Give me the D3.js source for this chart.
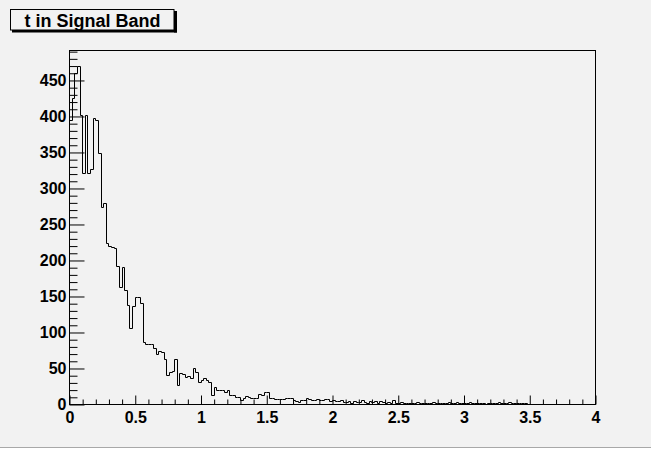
<!DOCTYPE html>
<html>
<head>
<meta charset="utf-8">
<script src="https://cdn.jsdelivr.net/npm/d3@7"></script>
<style>
  html, body { margin: 0; padding: 0; background: #ffffff; }
  svg { display: block; }
  text { font-family: "Liberation Sans", Arial, Helvetica, sans-serif; font-weight: bold; fill: #000; }
</style>
</head>
<body>
<svg id="chart" width="651" height="449"></svg>
<script>
// ---- data ----
const title = "t in Signal Band";
const xMin = 0, xMax = 4, binWidth = 0.02;
// bin contents (200 bins of width 0.02 from 0 to 4)
const binCounts = [
  395, 425, 460, 470, 402, 321, 401, 321, 327, 397,
  394, 349, 274, 279, 223, 220, 218, 217, 191, 163,
  190, 159, 137, 105, 136, 149, 148, 140, 86, 83,
  84, 83, 78, 69, 74, 72, 62, 40, 45, 46,
  63, 26, 43, 42, 38, 39, 36, 50, 45, 31,
  33, 36, 34, 31, 13, 24, 20, 20, 19, 17,
  20, 13, 12, 10, 10, 6, 8, 11, 10, 9,
  9, 9, 14, 13, 17, 16, 9, 8, 7, 7,
  7, 7, 9, 9, 9, 6, 4, 3, 6, 6,
  8, 7, 5, 6, 7, 5, 6, 7, 7, 4,
  5, 4, 4, 5, 3, 3, 4, 2, 4, 3,
  3, 5, 3, 2, 4, 3, 4, 2, 4, 3,
  2, 3, 2, 5, 2, 1, 3, 2, 2, 1,
  2, 1, 3, 2, 2, 1, 2, 1, 3, 1,
  2, 1, 1, 2, 3, 2, 2, 3, 2, 1,
  2, 2, 3, 1, 1, 2, 1, 1, 0, 1,
  2, 2, 2, 3, 1, 2, 1, 3, 1, 2,
  2, 2, 1, 2, 0, 0, 0, 0, 0, 0,
  0, 0, 0, 0, 0, 0, 0, 0, 0, 0,
  0, 0, 0, 0, 0, 0, 0, 0, 0, 0
];
const yMajorTicks = [0, 50, 100, 150, 200, 250, 300, 350, 400, 450];
const xMajorTicks = [0, 0.5, 1, 1.5, 2, 2.5, 3, 3.5, 4];
const xTickLabels = ["0", "0.5", "1", "1.5", "2", "2.5", "3", "3.5", "4"];
const yTop = 491.6;

// ---- layout ----
const W = 651, H = 449;
const frame = { left: 69, right: 595, top: 50, bottom: 404 };

const svg = d3.select("#chart");

// canvas background
svg.append("rect").attr("x", 0).attr("y", 0).attr("width", W).attr("height", 447)
  .attr("fill", "#f2f2f2");
svg.append("line").attr("x1", 0).attr("x2", W).attr("y1", 447.5).attr("y2", 447.5)
  .attr("stroke", "#a8a8a8").attr("stroke-width", 1);

const x = d3.scaleLinear().domain([xMin, xMax]).range([frame.left, frame.right]);
const y = d3.scaleLinear().domain([0, yTop]).range([frame.bottom, frame.top]);

// frame
svg.append("rect")
  .attr("x", frame.left + 0.5).attr("y", frame.top + 0.5)
  .attr("width", frame.right - frame.left).attr("height", frame.bottom - frame.top)
  .attr("fill", "none").attr("stroke", "#000").attr("stroke-width", 1);

// histogram outline
const pts = [[xMin, 0]];
binCounts.forEach((v, i) => {
  const lo = xMin + i * binWidth, hi = xMin + (i + 1) * binWidth;
  pts.push([lo, v]); pts.push([hi, v]);
});
pts.push([xMax, 0]);
const line = d3.line().x(d => Math.round(x(d[0])) + 0.5).y(d => Math.round(y(d[1])) + 0.5);
svg.append("path").datum(pts).attr("d", line)
  .attr("fill", "none").attr("stroke", "#000").attr("stroke-width", 1);

// axes
const yMinor = d3.range(0, 491, 10).filter(v => v % 50 !== 0);
const xMinor = d3.range(0, 41, 1).map(v => v / 10).filter(v => Math.abs(v * 2 - Math.round(v * 2)) > 1e-6);

function styleAxis(g) {
  g.select(".domain").remove();
  g.selectAll(".tick line").attr("stroke", "#000").attr("stroke-width", 1);
  g.selectAll(".tick text").attr("font-size", 16).attr("font-weight", "bold")
    .attr("font-family", "'Liberation Sans', Arial, Helvetica, sans-serif").attr("fill", "#000");
}

// y axis
svg.append("g").attr("transform", `translate(${frame.left + 0.5},0.5)`)
  .call(d3.axisLeft(y).tickValues(yMinor).tickSize(-8).tickFormat(""))
  .call(styleAxis);
svg.append("g").attr("transform", `translate(${frame.left + 0.5},0.5)`)
  .call(d3.axisLeft(y).tickValues(yMajorTicks).tickSize(-15).tickPadding(3).tickFormat(d3.format("d")))
  .call(styleAxis);

// x axis
svg.append("g").attr("transform", `translate(0.5,${frame.bottom + 0.5})`)
  .call(d3.axisBottom(x).tickValues(xMinor).tickSize(-5).tickFormat(""))
  .call(styleAxis);
svg.append("g").attr("transform", `translate(0.5,${frame.bottom + 0.5})`)
  .call(d3.axisBottom(x).tickValues(xMajorTicks).tickSize(-9).tickPadding(7)
    .tickFormat((d, i) => xTickLabels[i]))
  .call(styleAxis);

// title box with shadow
const tb = { x: 10, y: 9, w: 164, h: 21 };
svg.append("rect").attr("x", tb.x + 2).attr("y", tb.y + tb.h).attr("width", tb.w + 1).attr("height", 2.5).attr("fill", "#000");
svg.append("rect").attr("x", tb.x + tb.w).attr("y", tb.y + 2).attr("width", 3).attr("height", tb.h + 0.5).attr("fill", "#000");
svg.append("rect").attr("x", tb.x + 0.5).attr("y", tb.y + 0.5).attr("width", tb.w - 0.5).attr("height", tb.h - 0.5)
  .attr("fill", "#f2f2f2").attr("stroke", "#000").attr("stroke-width", 1);
svg.append("text").attr("x", tb.x + tb.w / 2 + 0.5).attr("y", 26.5)
  .attr("text-anchor", "middle").attr("font-size", 18).text(title);
</script>
</body>
</html>
